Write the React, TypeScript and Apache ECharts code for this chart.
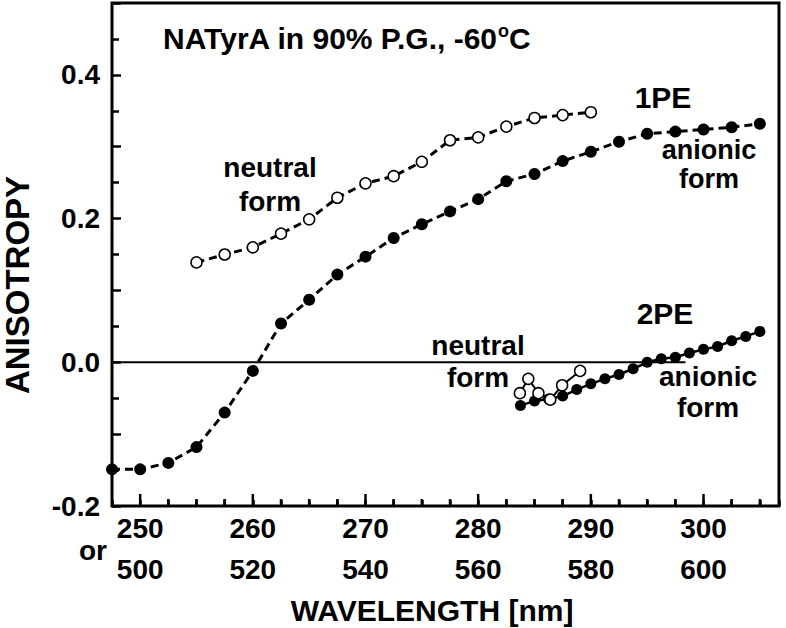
import React, { useEffect, useRef } from "react";
import * as echarts from "echarts";

// ---- Data ----
const onePEWavelength = [247.5, 250, 252.5, 255, 257.5, 260, 262.5, 265, 267.5, 270, 272.5, 275, 277.5, 280, 282.5, 285, 287.5, 290, 292.5, 295, 297.5, 300, 302.5, 305];
const onePEAnionic = [-0.149, -0.149, -0.140, -0.118, -0.070, -0.012, 0.054, 0.087, 0.122, 0.147, 0.173, 0.192, 0.210, 0.227, 0.252, 0.262, 0.280, 0.293, 0.307, 0.318, 0.321, 0.324, 0.327, 0.332];

const onePENeutralWavelength = [255, 257.5, 260, 262.5, 265, 267.5, 270, 272.5, 275, 277.5, 280, 282.5, 285, 287.5, 290];
const onePENeutral = [0.139, 0.150, 0.160, 0.179, 0.199, 0.229, 0.249, 0.259, 0.279, 0.309, 0.313, 0.328, 0.340, 0.344, 0.348];

// 2PE excitation wavelengths (nm), plotted on the 1PE-equivalent axis (lambda / 2)
const twoPEAnionicWavelength = [567.5, 570, 572.5, 575, 577.5, 580, 582.5, 585, 587.5, 590, 592.5, 595, 597.5, 600, 602.5, 605, 607.5, 610];
const twoPEAnionic = [-0.060, -0.054, -0.051, -0.047, -0.038, -0.030, -0.023, -0.017, -0.009, 0.000, 0.005, 0.007, 0.013, 0.018, 0.022, 0.030, 0.036, 0.043];

const twoPENeutralWavelength = [567.4, 568.9, 570.7, 572.8, 574.9, 578.1];
const twoPENeutral = [-0.043, -0.023, -0.043, -0.052, -0.032, -0.012];

// x-axis tick positions (1PE wavelength, nm); labels at the multiples of 10
const xTickValues = [250, 252.5, 255, 257.5, 260, 262.5, 265, 267.5, 270, 272.5, 275, 277.5, 280, 282.5, 285, 287.5, 290, 292.5, 295, 297.5, 300, 302.5, 305];

const xMin = 247.5;
const xMax = 306.7;
const yMin = -0.2;
const yMax = 0.5;
const zeroLineExtent = [247.5, 298.4];

const FONT = '"Liberation Sans", Arial, Helvetica, sans-serif';

export default function App() {
  const ref = useRef<HTMLDivElement>(null);

  useEffect(() => {
    if (!ref.current) return;
    const chart = echarts.init(ref.current, null, { renderer: "svg" });

    const txt = (text: string, x: number, y: number, size = 28, rotation = 0, lineHeight?: number) => ({
      type: "text",
      x,
      y,
      rotation,
      z: 100,
      style: {
        text,
        fill: "#000",
        fontSize: size,
        fontWeight: "bold",
        fontFamily: FONT,
        lineHeight: lineHeight ?? size,
        align: "center",
        verticalAlign: "middle",
        textAlign: "center",
        textVerticalAlign: "middle",
      },
    });

    const isMultipleOf = (v: number, step: number) => Math.abs(Math.round(v / step) * step - v) < 1e-6;
    const tickLen = (v: number) => (isMultipleOf(v, 10) ? 12 : 7);

    const option: any = {
      animation: false,
      backgroundColor: "#fff",
      grid: {
        left: 112,
        right: 7,
        top: 3,
        bottom: 122,
        show: true,
        borderColor: "#000",
        borderWidth: 3,
        backgroundColor: "transparent",
      },
      xAxis: {
        type: "value",
        min: xMin,
        max: xMax,
        interval: 2.5,
        axisLine: { show: false, onZero: false },
        splitLine: { show: false },
        axisTick: { show: true, inside: true, length: 6, lineStyle: { color: "#000", width: 2.5 } },
        axisLabel: {
          show: true,
          formatter: (v: number) => (isMultipleOf(v, 10) ? `${v}\n${v * 2}` : ""),
          fontSize: 28,
          fontWeight: "bold",
          fontFamily: FONT,
          color: "#000",
          lineHeight: 41,
          margin: 2,
        },
      },
      yAxis: {
        type: "value",
        min: yMin,
        max: yMax,
        interval: 0.1,
        axisLine: { show: false, onZero: false },
        splitLine: { show: false },
        axisTick: { show: true, inside: true, length: 9, lineStyle: { color: "#000", width: 2.5 } },
        minorTick: { show: true, splitNumber: 2, length: 7, lineStyle: { color: "#000", width: 2.5 } },
        axisLabel: {
          formatter: (v: number) => (isMultipleOf(v, 0.2) && v < 0.45 ? v.toFixed(1) : ""),
          fontSize: 28,
          fontWeight: "bold",
          fontFamily: FONT,
          color: "#000",
          margin: 12,
        },
      },
      series: [
        {
          // x-axis tick marks, positioned through the axis scale
          type: "scatter",
          silent: true,
          clip: false,
          z: 50,
          data: xTickValues.map((v) => ({
            value: [v, yMin],
            symbolSize: [2.5, tickLen(v)],
            symbolOffset: [0, -tickLen(v) / 2],
          })),
          symbol: "rect",
          itemStyle: { color: "#000", opacity: 1 },
        },
        {
          type: "line",
          data: zeroLineExtent.map((x) => [x, 0]),
          symbol: "none",
          silent: true,
          lineStyle: { color: "#000", width: 2 },
          z: 1,
        },
        {
          type: "line",
          data: onePEWavelength.map((x, i) => [x, onePEAnionic[i]]),
          symbol: "circle",
          symbolSize: 12,
          itemStyle: { color: "#000" },
          lineStyle: { color: "#000", width: 3, type: [8, 5] },
          z: 3,
        },
        {
          type: "line",
          data: onePENeutralWavelength.map((x, i) => [x, onePENeutral[i]]),
          symbol: "circle",
          symbolSize: 11,
          itemStyle: { color: "#fff", borderColor: "#000", borderWidth: 1.5 },
          lineStyle: { color: "#000", width: 3, type: [8, 5] },
          z: 3,
        },
        {
          type: "line",
          data: twoPEAnionicWavelength.map((x, i) => [x / 2, twoPEAnionic[i]]),
          symbol: "circle",
          symbolSize: 11,
          itemStyle: { color: "#000" },
          lineStyle: { color: "#000", width: 2.5 },
          z: 3,
        },
        {
          type: "line",
          data: twoPENeutralWavelength.map((x, i) => [x / 2, twoPENeutral[i]]),
          symbol: "circle",
          symbolSize: 11,
          itemStyle: { color: "#fff", borderColor: "#000", borderWidth: 1.5 },
          lineStyle: { color: "#000", width: 2 },
          z: 4,
        },
      ],
      graphic: [
        {
          type: "text",
          x: 163,
          y: 38,
          z: 100,
          style: {
            text: "{t|NATyrA in 90% P.G., -60}{s|o}{t|C}",
            align: "left",
            verticalAlign: "middle",
            textAlign: "left",
            textVerticalAlign: "middle",
            rich: {
              t: { fontSize: 30, fontWeight: "bold", fontFamily: FONT, fill: "#000", lineHeight: 32 },
              s: { fontSize: 18, fontWeight: "bold", fontFamily: FONT, fill: "#000", verticalAlign: "top", lineHeight: 32 },
            },
          },
        },
        txt("neutral\nform", 270, 184, 28, 0, 34),
        txt("1PE", 663, 97, 30),
        txt("anionic\nform", 709, 164, 27, 0, 29),
        txt("2PE", 665, 313, 30),
        txt("neutral\nform", 478, 361, 28, 0, 32),
        txt("anionic\nform", 708, 392, 28, 0, 31),
        txt("or", 93, 550),
        txt("WAVELENGTH [nm]", 432, 610, 30),
        txt("ANISOTROPY", 17, 285, 33, Math.PI / 2),
      ],
    };

    chart.setOption(option);
    return () => chart.dispose();
  }, []);

  return (
    <div
      ref={ref}
      style={{ position: "fixed", left: 0, top: 0, width: 786, height: 628, background: "#fff" }}
    />
  );
}
